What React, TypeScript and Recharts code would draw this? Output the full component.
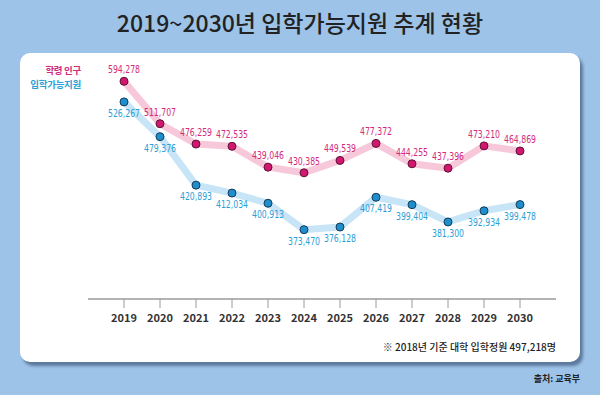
import React from 'react';
import { LineChart, Line, XAxis, YAxis, LabelList } from 'recharts';

const years = [2019, 2020, 2021, 2022, 2023, 2024, 2025, 2026, 2027, 2028, 2029, 2030];
const schoolAgePopulation = [594278, 511707, 476259, 472535, 439046, 430385, 449539, 477372, 444255, 437396, 473210, 464869];
const admissionAvailable = [526267, 479376, 420893, 412034, 400913, 373470, 376128, 407419, 399404, 381300, 392934, 399478];
const yearTicks = [2019, 2020, 2021, 2022, 2023, 2024, 2025, 2026, 2027, 2028, 2029, 2030];

const data = years.map((y, i) => ({
  year: y,
  pop: schoolAgePopulation[i],
  avail: admissionAvailable[i],
}));

const fmt = (v: number) => Number(v).toLocaleString('en-US');

const KR = '"Noto Sans CJK KR", "Noto Sans", sans-serif';

const PINK = '#d42a7c';
const BLUE = '#2b9fd6';

const makeLabel = (color: string, dy: number) => (props: any) => {
  const vb = props.viewBox || {};
  const x = props.x ?? vb.x;
  const y = props.y ?? vb.y;
  if (x == null || y == null) return null;
  return (
    <g transform={`translate(${x},${y + dy}) scale(0.82,1)`}>
      <text
        x={0}
        y={0}
        textAnchor="middle"
        fill={color}
        style={{ fontFamily: '"DejaVu Sans", sans-serif', fontStretch: 'condensed', fontSize: 10.5 }}
      >
        {fmt(props.value)}
      </text>
    </g>
  );
};

export default function App() {
  return (
    <div style={{ position: 'absolute', left: 0, top: 0, width: 600, height: 395, background: '#9dc3e8', overflow: 'hidden', fontFamily: KR }}>
      <div style={{ position: 'absolute', left: 0, top: 5, width: 600, textAlign: 'center', fontSize: 23, fontWeight: 500, color: '#222' }}>
        2019~2030년 입학가능지원 추계 현황
      </div>
      <div style={{ position: 'absolute', left: 20, top: 53, width: 560, height: 309, background: '#fff', borderRadius: 10, boxShadow: '3px 4px 3px rgba(40,60,95,0.55)' }} />
      <div style={{ position: 'absolute', right: 519, top: 63, fontSize: 9.5, fontWeight: 700, color: PINK, textAlign: 'right', whiteSpace: 'nowrap', letterSpacing: -0.3 }}>학령 인구</div>
      <div style={{ position: 'absolute', right: 519, top: 77, fontSize: 9.5, fontWeight: 700, color: BLUE, textAlign: 'right', whiteSpace: 'nowrap', letterSpacing: -0.3 }}>입학가능지원</div>
      <div style={{ position: 'absolute', left: 0, top: 0 }}>
        <LineChart width={600} height={395} data={data} margin={{ top: 67, right: 44, bottom: 66, left: 88 }}>
          <XAxis
            dataKey="year"
            type="number"
            domain={[2018, 2031]}
            ticks={yearTicks}
            tickSize={9}
            axisLine={{ stroke: '#9a9a9a', strokeWidth: 1.5 }}
            tickLine={{ stroke: '#9a9a9a' }}
            tick={{ fill: '#333', fontSize: 11, fontWeight: 700, fontFamily: KR }}
            tickMargin={6}
            height={30}
            allowDecimals={false}
          />
          <YAxis yAxisId="p" width={0} scale="log" domain={[275710, 625070]} allowDataOverflow tick={false} tickLine={false} axisLine={{ stroke: '#9a9a9a', strokeWidth: 1.5 }} />
          <YAxis yAxisId="a" hide scale="log" domain={[310080, 577920]} allowDataOverflow />
          <Line yAxisId="p" dataKey="pop" stroke="#f6c8da" strokeWidth={7} strokeLinejoin="round" isAnimationActive={false}
            dot={{ r: 4, fill: '#d1176f', stroke: '#5a1535', strokeWidth: 1 }}>
            <LabelList dataKey="pop" content={makeLabel(PINK, -8)} />
          </Line>
          <Line yAxisId="a" dataKey="avail" stroke="#c7e5f6" strokeWidth={7} strokeLinejoin="round" isAnimationActive={false}
            dot={{ r: 4, fill: '#1f8fcb', stroke: '#163a5a', strokeWidth: 1 }}>
            <LabelList dataKey="avail" content={makeLabel(BLUE, 15)} />
          </Line>
        </LineChart>
      </div>
      <div style={{ position: 'absolute', right: 44, top: 339, fontSize: 10, fontWeight: 500, color: '#222', whiteSpace: 'nowrap' }}>
        ※ 2018년 기준 대학 입학정원 497,218명
      </div>
      <div style={{ position: 'absolute', right: 20, top: 372, fontSize: 9, fontWeight: 700, color: '#222', whiteSpace: 'nowrap' }}>
        출처: 교육부
      </div>
    </div>
  );
}
